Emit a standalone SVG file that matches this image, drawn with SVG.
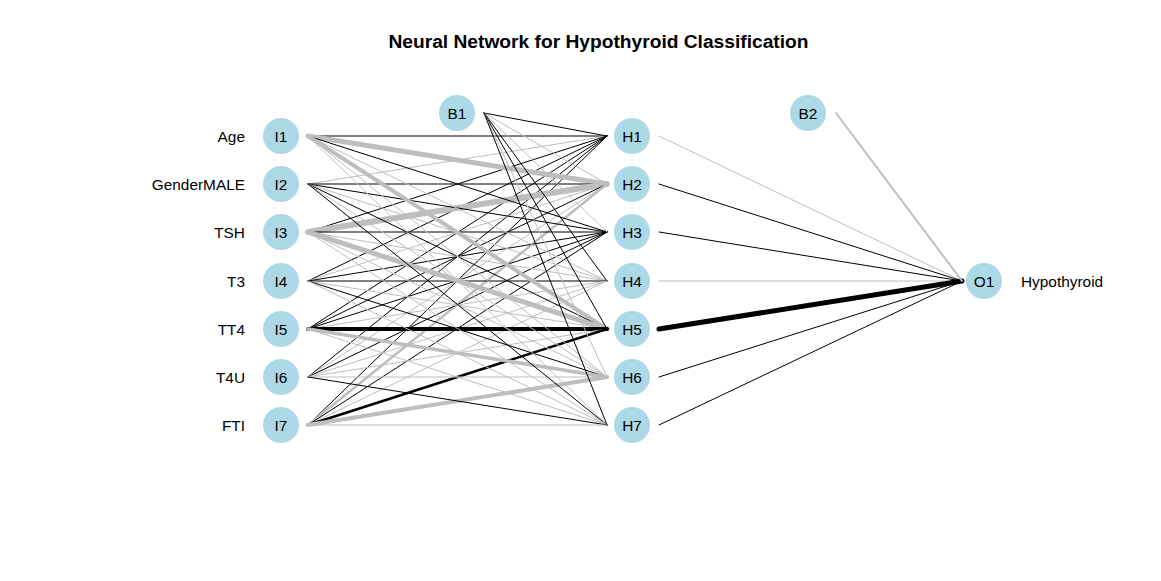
<svg xmlns="http://www.w3.org/2000/svg" width="1161" height="581" viewBox="0 0 1161 581">
<style>
.bg{fill:#fff}
line{stroke-linecap:round}
.b{stroke:#000}
.g{stroke:#BEBEBE}
.w1{stroke-width:1}
.w2{stroke-width:2}
.w25{stroke-width:2.5}
.w3{stroke-width:3.5}
.w4{stroke-width:4}
.w5{stroke-width:5}
.w6{stroke-width:6}
.node circle{fill:#ADD8E6}
text{font-family:"Liberation Sans",Arial,sans-serif;font-size:15.4px;fill:#000}
.nl{text-anchor:middle}
.vl{text-anchor:end}
.title{font-size:19.2px;font-weight:bold;text-anchor:middle}
</style>
<rect class="bg" x="0" y="0" width="1161" height="581"/>
<text class="title" x="598.5" y="48">Neural Network for Hypothyroid Classification</text>
<g id="connectors">
<!-- to H1 -->
<line class="b w1" x1="308" y1="136" x2="607" y2="136"/>
<line class="g w1" x1="308" y1="184" x2="607" y2="136"/>
<line class="b w1" x1="308" y1="232" x2="607" y2="136"/>
<line class="b w1" x1="308" y1="281" x2="607" y2="136"/>
<line class="b w1" x1="308" y1="329" x2="607" y2="136"/>
<line class="b w1" x1="308" y1="377" x2="607" y2="136"/>
<line class="b w1" x1="308" y1="425" x2="607" y2="136"/>
<!-- to H2 -->
<line class="g w5" x1="308" y1="136" x2="607" y2="184"/>
<line class="b w1" x1="308" y1="184" x2="607" y2="184"/>
<line class="g w6" x1="308" y1="232" x2="607" y2="184"/>
<line class="g w1" x1="308" y1="281" x2="607" y2="184"/>
<line class="b w1" x1="308" y1="329" x2="607" y2="184"/>
<line class="g w1" x1="308" y1="377" x2="607" y2="184"/>
<line class="g w25" x1="308" y1="425" x2="607" y2="184"/>
<!-- to H3 -->
<line class="b w1" x1="308" y1="136" x2="607" y2="232"/>
<line class="b w1" x1="308" y1="184" x2="607" y2="232"/>
<line class="b w1" x1="308" y1="232" x2="607" y2="232"/>
<line class="b w1" x1="308" y1="281" x2="607" y2="232"/>
<line class="b w1" x1="308" y1="329" x2="607" y2="232"/>
<line class="b w1" x1="308" y1="377" x2="607" y2="232"/>
<line class="b w1" x1="308" y1="425" x2="607" y2="232"/>
<!-- to H4 -->
<line class="g w1" x1="308" y1="136" x2="607" y2="281"/>
<line class="g w1" x1="308" y1="184" x2="607" y2="281"/>
<line class="g w1" x1="308" y1="232" x2="607" y2="281"/>
<line class="b w1" x1="308" y1="281" x2="607" y2="281"/>
<line class="g w1" x1="308" y1="329" x2="607" y2="281"/>
<line class="g w1" x1="308" y1="377" x2="607" y2="281"/>
<line class="g w1" x1="308" y1="425" x2="607" y2="281"/>
<!-- to H5 -->
<line class="g w4" x1="308" y1="136" x2="607" y2="329"/>
<line class="b w1" x1="308" y1="184" x2="607" y2="329"/>
<line class="g w5" x1="308" y1="232" x2="607" y2="329"/>
<line class="g w1" x1="308" y1="281" x2="607" y2="329"/>
<line class="b w4" x1="308" y1="329" x2="607" y2="329"/>
<line class="g w1" x1="308" y1="377" x2="607" y2="329"/>
<line class="b w25" x1="308" y1="425" x2="607" y2="329"/>
<!-- to H6 -->
<line class="g w1" x1="308" y1="136" x2="607" y2="377"/>
<line class="g w1" x1="308" y1="184" x2="607" y2="377"/>
<line class="g w1" x1="308" y1="232" x2="607" y2="377"/>
<line class="b w1" x1="308" y1="281" x2="607" y2="377"/>
<line class="g w3" x1="308" y1="329" x2="607" y2="377"/>
<line class="g w1" x1="308" y1="377" x2="607" y2="377"/>
<line class="g w4" x1="308" y1="425" x2="607" y2="377"/>
<!-- to H7 -->
<line class="g w1" x1="308" y1="136" x2="607" y2="425"/>
<line class="b w1" x1="308" y1="184" x2="607" y2="425"/>
<line class="g w1" x1="308" y1="232" x2="607" y2="425"/>
<line class="g w1" x1="308" y1="281" x2="607" y2="425"/>
<line class="g w1" x1="308" y1="329" x2="607" y2="425"/>
<line class="b w1" x1="308" y1="377" x2="607" y2="425"/>
<line class="g w1" x1="308" y1="425" x2="607" y2="425"/>
<!-- bias B1 -->
<line class="b w1" x1="484" y1="113" x2="607" y2="136"/>
<line class="g w1" x1="484" y1="113" x2="607" y2="184"/>
<line class="g w1" x1="484" y1="113" x2="607" y2="232"/>
<line class="b w1" x1="484" y1="113" x2="607" y2="281"/>
<line class="b w1" x1="484" y1="113" x2="607" y2="329"/>
<line class="g w1" x1="484" y1="113" x2="607" y2="377"/>
<line class="b w1" x1="484" y1="113" x2="607" y2="425"/>
<!-- hidden to output -->
<line class="g w1" x1="659" y1="136" x2="962" y2="281"/>
<line class="b w1" x1="659" y1="184" x2="962" y2="281"/>
<line class="b w1" x1="659" y1="232" x2="962" y2="281"/>
<line class="g w1" x1="659" y1="281" x2="962" y2="281"/>
<line class="b w5" x1="659" y1="329" x2="962" y2="281"/>
<line class="b w1" x1="659" y1="377" x2="962" y2="281"/>
<line class="b w1" x1="659" y1="425" x2="962" y2="281"/>
<line class="g w2" x1="836" y1="113" x2="962" y2="281"/>
</g>
<g id="I1" class="node"><circle cx="281" cy="136" r="18"/><text class="nl" x="281" y="141.5">I1</text><text class="vl" x="245" y="141.5">Age</text></g>
<g id="I2" class="node"><circle cx="281" cy="184" r="18"/><text class="nl" x="281" y="189.5">I2</text><text class="vl" x="245" y="189.5">GenderMALE</text></g>
<g id="I3" class="node"><circle cx="281" cy="232" r="18"/><text class="nl" x="281" y="237.5">I3</text><text class="vl" x="245" y="237.5">TSH</text></g>
<g id="I4" class="node"><circle cx="281" cy="281" r="18"/><text class="nl" x="281" y="286.5">I4</text><text class="vl" x="245" y="286.5">T3</text></g>
<g id="I5" class="node"><circle cx="281" cy="329" r="18"/><text class="nl" x="281" y="334.5">I5</text><text class="vl" x="245" y="334.5">TT4</text></g>
<g id="I6" class="node"><circle cx="281" cy="377" r="18"/><text class="nl" x="281" y="382.5">I6</text><text class="vl" x="245" y="382.5">T4U</text></g>
<g id="I7" class="node"><circle cx="281" cy="425" r="18"/><text class="nl" x="281" y="430.5">I7</text><text class="vl" x="245" y="430.5">FTI</text></g>
<g id="B1" class="node"><circle cx="457" cy="113" r="18"/><text class="nl" x="457" y="118.5">B1</text></g>
<g id="H1" class="node"><circle cx="632" cy="136" r="18"/><text class="nl" x="632" y="141.5">H1</text></g>
<g id="H2" class="node"><circle cx="632" cy="184" r="18"/><text class="nl" x="632" y="189.5">H2</text></g>
<g id="H3" class="node"><circle cx="632" cy="232" r="18"/><text class="nl" x="632" y="237.5">H3</text></g>
<g id="H4" class="node"><circle cx="632" cy="281" r="18"/><text class="nl" x="632" y="286.5">H4</text></g>
<g id="H5" class="node"><circle cx="632" cy="329" r="18"/><text class="nl" x="632" y="334.5">H5</text></g>
<g id="H6" class="node"><circle cx="632" cy="377" r="18"/><text class="nl" x="632" y="382.5">H6</text></g>
<g id="H7" class="node"><circle cx="632" cy="425" r="18"/><text class="nl" x="632" y="430.5">H7</text></g>
<g id="B2" class="node"><circle cx="808" cy="113" r="18"/><text class="nl" x="808" y="118.5">B2</text></g>
<g id="O1" class="node"><circle cx="984" cy="281" r="18"/><text class="nl" x="984" y="286.5">O1</text><text x="1021" y="286.5">Hypothyroid</text></g>
</svg>
